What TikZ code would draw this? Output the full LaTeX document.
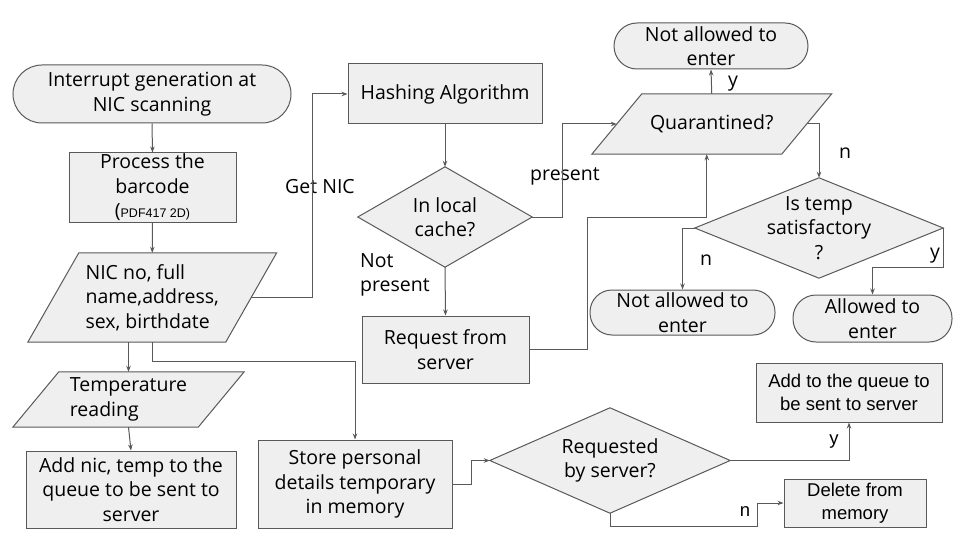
\documentclass[tikz,border=0pt]{standalone}
\usepackage{fontspec}
\setmainfont{Open Sans}
\newfontfamily\arialf{Liberation Sans}
\usetikzlibrary{arrows.meta,backgrounds,calc}
\definecolor{fillg}{HTML}{EFEFEF}
\definecolor{lineg}{HTML}{595959}
\tikzset{
 base/.style={font=\fontsize{19.5}{24.5}\selectfont, text=black, align=center, inner sep=0pt},
 boxn/.style={base, draw=lineg, fill=fillg, line width=1pt, rectangle},
 termn/.style={boxn, rounded corners=#1},
 core/.style={base, rectangle},
 shp/.style={draw=lineg, fill=fillg, line width=1pt},
 arr/.style={draw=lineg, line width=1pt, -{Stealth[length=6pt,width=4.5pt]}},
 conn/.style={draw=lineg, line width=1pt},
 lbl/.style={font=\fontsize{19.5}{24.5}\selectfont, inner sep=0pt},
 arialtxt/.style={font=\arialf\fontsize{18.5}{22.5}\selectfont}
}
\begin{document}
\begin{tikzpicture}[x=1pt,y=-1pt]
\useasboundingbox (0,0) rectangle (960,540);
% nodes
\node[termn=29pt, minimum width=278pt, minimum height=58pt] (start) at (152,94) {Interrupt generation at\\NIC scanning};
\node[boxn, minimum width=167pt, minimum height=69pt] (proc) at (152.5,187.5) {Process the\\barcode\\{(}{\arialf\fontsize{12.5}{14}\selectfont PDF417 2D)}};
\node[core, minimum width=197.5pt, minimum height=89pt, align=left] (nic) at (152.25,297.5) {NIC no, full\\name,address,\\sex, birthdate};
\node[boxn, minimum width=194pt, minimum height=60pt] (hash) at (445,94) {Hashing Algorithm};
\node[core, minimum width=174pt, minimum height=100pt] (cache) at (445,217) {In local\\cache?};
\node[boxn, minimum width=167pt, minimum height=67pt] (req) at (445.5,349.5) {Request from\\server};
\node[termn=23pt, minimum width=194pt, minimum height=46pt] (nat1) at (711,46) {Not allowed to\\enter};
\node[core, minimum width=189.5pt, minimum height=60pt] (quar) at (711.75,124) {Quarantined?};
\node[core, minimum width=248pt, minimum height=100pt] (temp) at (819,228) {Is temp\\satisfactory\\?};
\node[termn=22pt, minimum width=185pt, minimum height=45pt] (nat2) at (682.5,312.5) {Not allowed to\\enter};
\node[termn=23pt, minimum width=159pt, minimum height=47pt] (allowed) at (872.5,318.5) {Allowed to\\enter};
\node[core, minimum width=185pt, minimum height=55pt, align=left] (tempr) at (128.5,399.5) {Temperature\\reading};
\node[boxn, minimum width=210pt, minimum height=77pt] (addnic) at (131,489.5) {Add nic, temp to the\\queue to be sent to\\server};
\node[boxn, minimum width=194pt, minimum height=88pt] (store) at (355,484) {Store personal\\details temporary\\in memory};
\node[core, minimum width=240pt, minimum height=105pt] (req2) at (610,460.5) {Requested\\by server?};
\node[boxn, arialtxt, minimum width=186pt, minimum height=59pt] (addq) at (849,392.5) {Add to the queue to\\be sent to server};
\node[boxn, arialtxt, minimum width=142pt, minimum height=48pt] (del) at (855,503) {Delete from\\memory};
% labels
\node[lbl] (lgetnic) at (320,187) {Get NIC};
\node[lbl] (lpresent) at (565,176) {present};
\node[lbl, align=left, anchor=west] (lnotp) at (360,275) {Not\\present};
\node[lbl] (ly1) at (733,84) {y};
\node[lbl] (ln1) at (845,153) {n};
\node[lbl] (ln2) at (706,260) {n};
\node[lbl] (ly2) at (935,256) {y};
\node[lbl, arialtxt] (ly3) at (834,442) {y};
\node[lbl, arialtxt] (ln3) at (745,512) {n};
% background shapes
\begin{pgfonlayer}{background}
\fill[white] (0,0) rectangle (960,540);
\filldraw[shp] ([xshift=25.5pt]nic.north west) -- ([xshift=25.5pt]nic.north east) -- ([xshift=-25.5pt]nic.south east) -- ([xshift=-25.5pt]nic.south west) -- cycle;
\filldraw[shp] ([xshift=25pt]quar.north west) -- ([xshift=25pt]quar.north east) -- ([xshift=-25pt]quar.south east) -- ([xshift=-25pt]quar.south west) -- cycle;
\filldraw[shp] ([xshift=23pt]tempr.north west) -- ([xshift=23pt]tempr.north east) -- ([xshift=-23pt]tempr.south east) -- ([xshift=-23pt]tempr.south west) -- cycle;
\filldraw[shp] (cache.north) -- (cache.east) -- (cache.south) -- (cache.west) -- cycle;
\filldraw[shp] (temp.north) -- (temp.east) -- (temp.south) -- (temp.west) -- cycle;
\filldraw[shp] (req2.north) -- (req2.east) -- (req2.south) -- (req2.west) -- cycle;
\end{pgfonlayer}
% connectors
\draw[arr] (start.south) -- (proc.north);
\draw[arr] (proc.south) -- (nic.north);
\draw[arr] (nic.east) -- ++(61,0) |- (hash.west);
\draw[arr] (hash.south) -- (cache.north);
\draw[arr] (cache.east) -- ++(30,0) |- (quar.west);
\draw[arr] (cache.south) -- (req.north);
\draw[arr] (req.east) -- ++(58,0) -- ++(0,-132) -| ([xshift=-5pt]quar.south);
\draw[arr] (quar.north) -- (nat1.south);
\draw[arr] (quar.east) -| (temp.north);
\draw[arr] (temp.west) -| (nat2.north);
\draw[arr] (temp.east) -- ++(0,39) -| (allowed.north);
\draw[arr] (nic.south -| tempr.north) -- (tempr.north);
\draw[arr] (nic.south) -- ++(0,19) -| (store.north);
\draw[arr] (tempr.south) -- (addnic.north);
\draw[arr] (store.east) -- ++(19,0) |- (req2.west);
\draw[arr] (req2.east) -| (addq.south);
\draw[arr] (req2.south) -- ++(0,13) -- ++(147,0) |- (del.west);
\end{tikzpicture}
\end{document}
